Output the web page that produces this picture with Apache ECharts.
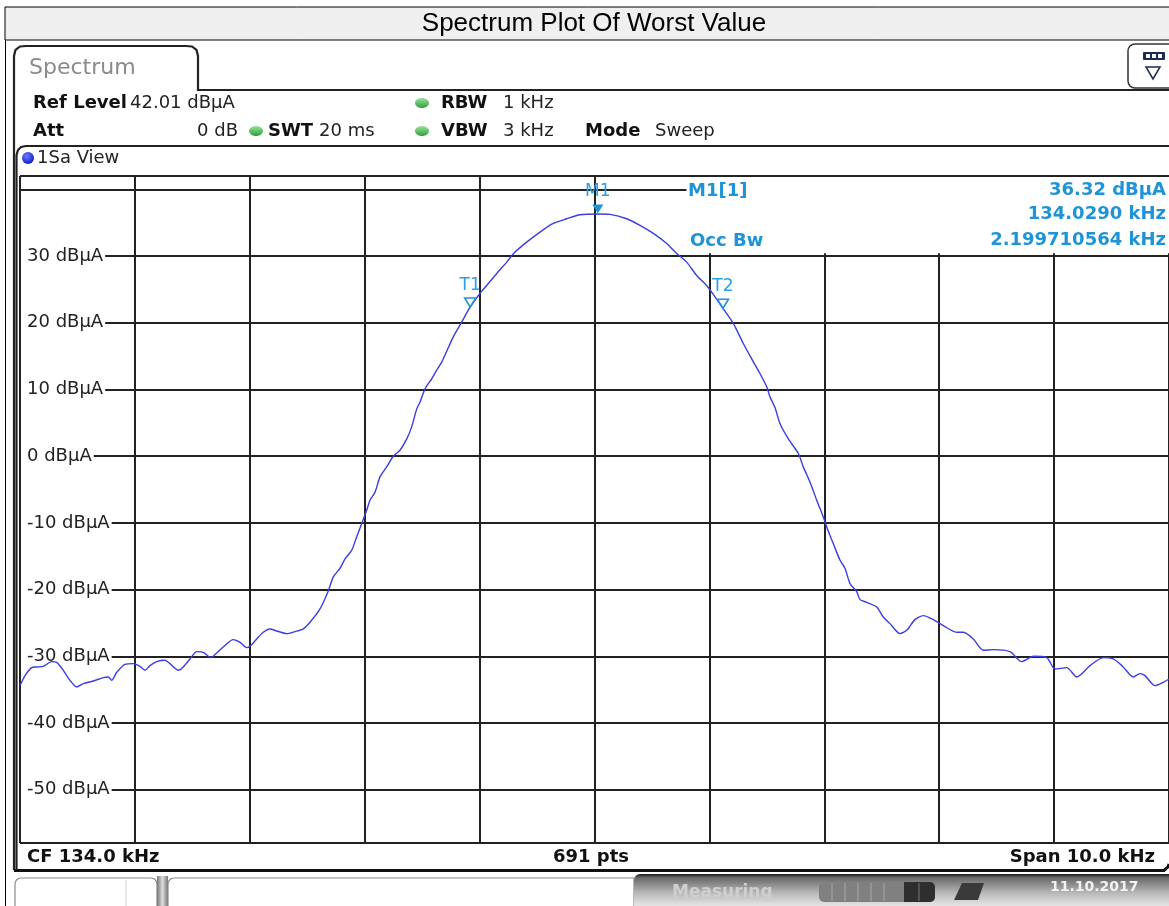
<!DOCTYPE html>
<html>
<head>
<meta charset="utf-8">
<script src="https://cdn.jsdelivr.net/npm/echarts@6/dist/echarts.min.js"></script>
<style>
html,body{margin:0;padding:0;background:#fff;}
#c{width:1169px;height:906px;}
</style>
</head>
<body>
<div id="c"></div>
<script>
// ---------- data ----------
const freqKHz = [
129.000,129.044,129.102,129.145,129.203,129.276,129.319,129.377,129.435,129.493,
129.551,129.638,129.725,129.768,129.798,129.842,129.914,129.986,130.044,130.088,
130.131,130.190,130.262,130.305,130.378,130.421,130.480,130.538,130.595,130.660,
130.712,130.769,130.856,130.915,130.973,131.002,131.060,131.117,131.176,131.234,
131.321,131.393,131.466,131.524,131.611,131.683,131.727,131.785,131.829,131.887,
131.930,131.974,132.017,132.046,132.090,132.133,132.191,132.249,132.307,132.366,
132.409,132.453,132.481,132.525,132.583,132.627,132.670,132.771,132.844,132.916,
133.003,133.062,133.149,133.236,133.308,133.410,133.526,133.641,133.758,133.874,
134.029,134.135,134.280,134.396,134.512,134.628,134.715,134.802,134.889,134.976,
135.049,135.121,135.208,135.295,135.368,135.440,135.499,135.527,135.571,135.614,
135.687,135.774,135.817,135.876,135.934,135.991,136.021,136.078,136.137,136.180,
136.224,136.282,136.311,136.369,136.456,136.513,136.572,136.659,136.717,136.789,
136.862,136.949,137.036,137.152,137.211,137.297,137.384,137.471,137.616,137.718,
137.819,137.936,138.008,138.110,138.197,138.313,138.428,138.515,138.602,138.689,
138.747,138.791,138.878,138.950,139.000
];
const levelDbuA = [
-34.4,-32.9,-31.7,-31.6,-31.5,-30.8,-30.9,-32.1,-33.6,-34.6,
-34.1,-33.7,-33.2,-33.1,-33.6,-32.4,-31.2,-31.1,-31.5,-32.1,
-31.4,-30.8,-30.6,-31.1,-32.1,-31.6,-30.4,-29.3,-29.4,-30.2,
-29.5,-28.6,-27.5,-27.9,-28.7,-28.5,-27.4,-26.4,-25.9,-26.2,
-26.6,-26.3,-25.9,-24.9,-22.9,-20.2,-18.1,-16.8,-15.4,-14.1,
-12.1,-10.1,-8.1,-6.6,-5.4,-3.1,-1.6,0.0,0.9,2.6,
4.4,7.1,8.1,10.1,11.6,12.9,14.1,17.9,20.1,22.3,
24.4,25.6,27.4,29.1,30.6,32.1,33.6,34.9,35.6,36.2,
36.32,36.25,35.6,34.6,33.4,31.9,30.4,29.1,27.1,25.6,
23.9,22.1,19.9,16.9,14.6,12.4,10.4,8.9,7.3,4.9,
2.6,0.4,-1.6,-3.9,-6.6,-9.1,-10.6,-13.1,-15.6,-16.8,
-19.1,-20.3,-21.5,-21.9,-22.6,-24.1,-25.1,-26.6,-26.1,-24.5,
-23.9,-24.5,-25.4,-26.4,-26.4,-27.4,-29.1,-29.0,-29.3,-30.8,
-30.0,-30.2,-31.9,-31.7,-33.1,-31.4,-30.2,-30.4,-31.6,-33.1,
-32.6,-32.9,-34.4,-33.9,-33.4
];
const yTickValues = [30,20,10,0,-10,-20,-30,-40,-50];
const yTickLabels = ['30 dBµA','20 dBµA','10 dBµA','0 dBµA','-10 dBµA','-20 dBµA','-30 dBµA','-40 dBµA','-50 dBµA'];
const markerNames = ['M1','T1','T2'];
const markerFreqKHz = [134.029, 132.918, 135.118];
const markerLevel = [36.32, 22.3, 22.1];
const refLevel = 42.01, bottomLevel = -57.99;
const startKHz = 129, stopKHz = 139;
const titleText = 'Spectrum Plot Of Worst Value';
const markerInfo = ['M1[1]', 'Occ Bw'];
const markerValues = ['36.32 dBµA', '134.0290 kHz', '2.199710564 kHz'];
const footerTexts = ['CF 134.0 kHz', '691 pts', 'Span 10.0 kHz'];

// ---------- styles ----------
const FONT = '"DejaVu Sans", Verdana, sans-serif';
const BLUE = '#1f93d8';
const TRACE = '#3a3ce4';
const GRIDC = '#222';

function T(x, y, text, font, fill, align, z) {
  return {type:'text', x:x, y:y, z: z || 20, silent:true,
    style:{text:text, font:font, fill:fill || '#111', align:align || 'left', verticalAlign:'middle'}};
}
function R(x, y, w, h, fill, stroke, lw, r, z) {
  return {type:'rect', z: z || 5, silent:true, shape:{x:x, y:y, width:w, height:h, r:r || 0},
    style:{fill:fill, stroke:stroke || null, lineWidth:lw || 0}};
}
function L(pts, stroke, lw, z) {
  return {type:'polyline', z: z || 6, silent:true, shape:{points:pts}, style:{fill:null, stroke:stroke, lineWidth:lw}};
}
function dot(x, y) {
  return {type:'ellipse', z:20, silent:true, shape:{cx:x, cy:y, rx:7, ry:5},
    style:{fill:new echarts.graphic.LinearGradient(0,0,0,1,[{offset:0,color:'#9ae39a'},{offset:1,color:'#2e9e3e'}])}};
}
const B18 = 'bold 18px ' + FONT;
const N18 = '18px ' + FONT;

const graphics = [
  // title bar
  R(5, 7, 1170, 33, '#efefef', '#000', 1, 0, 4),
  T(594, 24, titleText, '26px "Liberation Sans", Arial, sans-serif', '#000', 'center'),
  L([[5.5,40],[5.5,906]], '#000', 1),
  // tab
  L([[14,870],[14,56],[15.5,50],[20,46.5],[26,46],[186,46],[192,46.5],[196.5,50],[198,56],[198,90],[1169,90]], '#222', 2.2),
  T(29, 68, 'Spectrum', '22px ' + FONT, '#8a8a8a'),
  // header row 1
  T(33, 103, 'Ref Level', B18, '#111'),
  T(130, 103, '42.01 dBµA', N18, '#222'),
  dot(422, 103),
  T(441, 103, 'RBW', B18, '#111'),
  T(503, 103, '1 kHz', N18, '#222'),
  // header row 2
  T(33, 131, 'Att', B18, '#111'),
  T(238, 131, '0 dB', N18, '#222', 'right'),
  dot(256, 131),
  T(268, 131, 'SWT', B18, '#111'),
  T(319, 131, '20 ms', N18, '#222'),
  dot(422, 131),
  T(441, 131, 'VBW', B18, '#111'),
  T(503, 131, '3 kHz', N18, '#222'),
  T(585, 131, 'Mode', B18, '#111'),
  T(655, 131, 'Sweep', N18, '#222'),
  // top right icon
  R(1128, 44, 50, 44, '#fff', '#333', 1.5, 7, 6),
  R(1143, 52, 22, 8, '#1c2a5a', null, 0, 1, 7),
  R(1146, 54, 4, 4, '#fff', null, 0, 0, 8),
  R(1152, 54, 4, 4, '#fff', null, 0, 0, 8),
  R(1158, 54, 4, 4, '#fff', null, 0, 0, 8),
  {type:'polygon', z:8, silent:true, shape:{points:[[1146,67],[1160,67],[1153,79]]}, style:{fill:'#fff', stroke:'#1c2a5a', lineWidth:1.5}},
  // view box
  L([[16.5,870],[16.5,155],[18,150],[21,147],[26,146],[1169,146]], '#222', 2.2),
  {type:'circle', z:20, silent:true, shape:{cx:28, cy:158, r:6},
    style:{fill:new echarts.graphic.RadialGradient(0.4,0.35,0.7,[{offset:0,color:'#6a7dff'},{offset:1,color:'#0a18c8'}])}},
  T(37, 158, '1Sa View', N18, '#222'),
  // marker info texts
  T(688, 191, markerInfo[0], B18, BLUE),
  T(690, 241, markerInfo[1], B18, BLUE),
  T(1166, 190, markerValues[0], B18, BLUE, 'right'),
  T(1166, 214, markerValues[1], B18, BLUE, 'right'),
  T(1166, 240, markerValues[2], B18, BLUE, 'right'),
  // footer
  L([[14,870.5],[1164,870.5],[1168,867],[1169,864]], '#111', 3),
  T(27, 857, footerTexts[0], B18, '#111'),
  T(591, 857, footerTexts[1], B18, '#111', 'center'),
  T(1155, 857, footerTexts[2], B18, '#111', 'right'),
  // status bar
  R(6, 873, 1163, 33, '#fff', null, 0, 0, 3),
  R(15, 878, 142, 34, '#fff', '#8a8a8a', 1.2, 6, 5),
  L([[126,880],[126,906]], '#cfcfcf', 1),
  R(157, 876, 11, 30, new echarts.graphic.LinearGradient(0,0,1,0,[{offset:0,color:'#777'},{offset:0.5,color:'#ddd'},{offset:1,color:'#777'}]), null, 0, 0, 5),
  R(168, 878, 466, 34, '#fff', '#8a8a8a', 1.2, [6,0,0,0], 5),
  R(634, 874, 535, 32, new echarts.graphic.LinearGradient(0,0,0,1,[{offset:0,color:'#1a1a1a'},{offset:0.12,color:'#6a6a6a'},{offset:0.6,color:'#b9b9b9'},{offset:1,color:'#e6e6e6'}]), null, 0, [6,0,0,0], 5),
  T(672, 893, 'Measuring', 'bold 17px ' + FONT, '#cfcfcf'),
  R(819, 882, 116, 20, '#808080', null, 0, 5, 6),
  R(904, 882, 31, 20, '#2e2e2e', null, 0, [0,5,5,0], 7),
  L([[832,883],[832,901]], '#a8a8a8', 1, 8), L([[845,883],[845,901]], '#a8a8a8', 1, 8),
  L([[858,883],[858,901]], '#a8a8a8', 1, 8), L([[871,883],[871,901]], '#a8a8a8', 1, 8),
  L([[884,883],[884,901]], '#a8a8a8', 1, 8), L([[919,883],[919,901]], '#777', 1, 8),
  {type:'polygon', z:7, silent:true, shape:{points:[[954,900],[962,883],[984,883],[978,900]]}, style:{fill:'#3a3a3a'}},
  T(1050, 887, '11.10.2017', 'bold 14px ' + FONT, '#f2f2f2')
];

// ---------- chart ----------
const chart = echarts.init(document.getElementById('c'), null, {renderer:'canvas'});
const traceData = freqKHz.map((f, i) => [f, levelDbuA[i]]);

const markerData = markerNames.map((n, i) => {
  const isM = n.charAt(0) === 'M';
  return {
    name: n,
    coord: [markerFreqKHz[i], markerLevel[i]],
    symbol: 'triangle',
    symbolSize: [11, 9],
    symbolRotate: 180,
    symbolOffset: [0, -5],
    itemStyle: isM ? {color: BLUE} : {color: 'rgba(255,255,255,0)', borderColor: BLUE, borderWidth: 1.6},
    label: {show: true, formatter: n, position: 'top', distance: isM ? 4 : 3,
      color: '#2aa0e6', fontFamily: FONT, fontSize: 17}
  };
});

chart.setOption({
  animation: false,
  backgroundColor: '#fff',
  grid: {left: 20, right: 0, top: 176, bottom: 63},
  xAxis: {
    type: 'value', min: startKHz, max: stopKHz, interval: 1,
    axisLine: {show: false}, axisTick: {show: false}, axisLabel: {show: false},
    splitLine: {show: true, lineStyle: {color: GRIDC, width: 2}}
  },
  yAxis: {
    type: 'value', min: bottomLevel, max: refLevel, splitNumber: 10, minInterval: 10, maxInterval: 10,
    axisLine: {show: false}, axisTick: {show: false},
    axisLabel: {
      inside: true, margin: 1, showMinLabel: false, showMaxLabel: false,
      formatter: function (v) {
        const i = yTickValues.indexOf(Math.round(v));
        return (i >= 0 && Math.abs(v - Math.round(v)) < 1e-6) ? '{l|' + yTickLabels[i] + '}' : '';
      },
      rich: {l: {backgroundColor: '#fff', padding: [2, 2, 2, 6], fontSize: 18, fontFamily: FONT, color: '#222', lineHeight: 20}}
    },
    splitLine: {show: true, lineStyle: {color: GRIDC, width: 2}}
  },
  series: [{
    type: 'line',
    name: 'trace',
    data: traceData,
    showSymbol: false,
    symbol: 'none',
    smooth: 0.25,
    z: 3,
    lineStyle: {color: TRACE, width: 1.4},
    markArea: {
      silent: true,
      itemStyle: {color: '#fff', borderWidth: 0},
      data: [[{xAxis: 134.80, yAxis: 41.85}, {xAxis: stopKHz, yAxis: 30.42}]]
    },
    markPoint: {silent: true, data: markerData}
  }],
  graphic: {elements: graphics}
});
</script>
</body>
</html>
